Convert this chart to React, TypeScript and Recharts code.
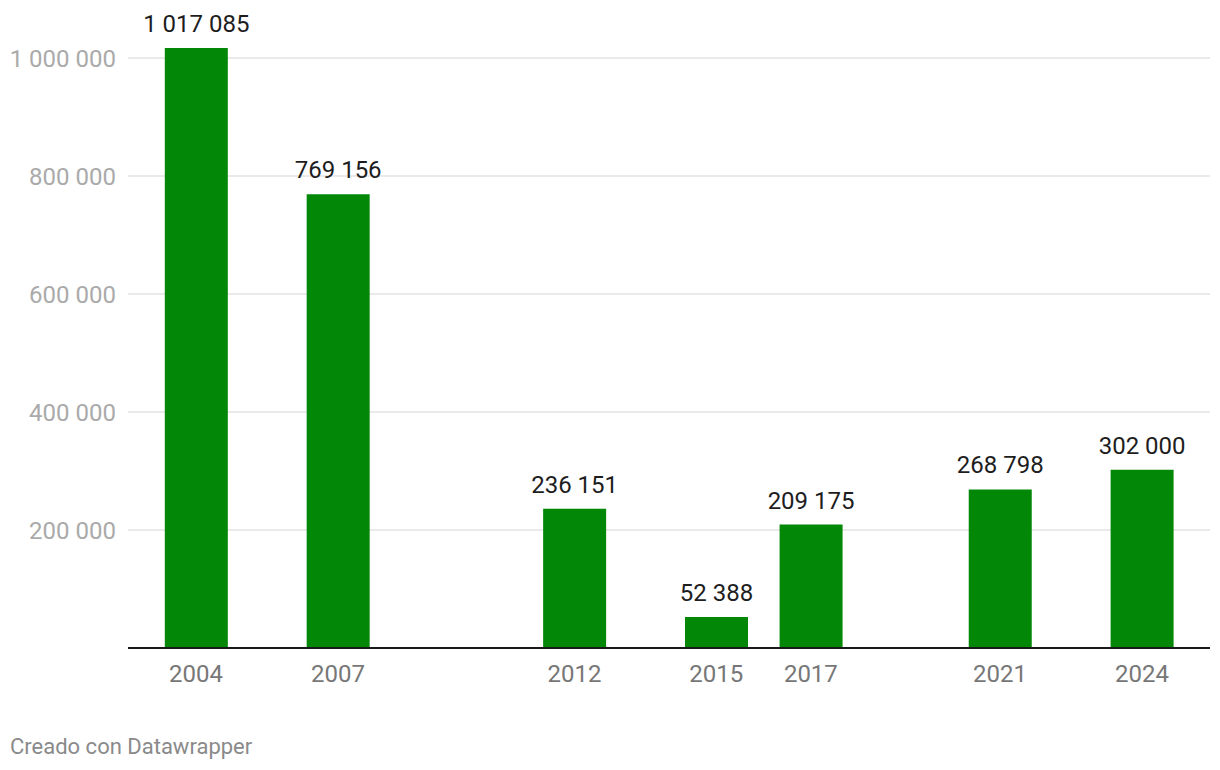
import { Bar, BarChart, CartesianGrid, LabelList, XAxis, YAxis } from "recharts"

const years = [2004, 2007, 2012, 2015, 2017, 2021, 2024]
const values = [1017085, 769156, 236151, 52388, 209175, 268798, 302000]
const yTicks = [0, 200000, 400000, 600000, 800000, 1000000]

const data = years.map((year, i) => ({ year, value: values[i] }))

const fmt = (v: number) => (v === 0 ? "" : String(v).replace(/\B(?=(\d{3})+(?!\d))/g, " "))

const ValueLabel = (props: any) => {
  const { x, y, width, value } = props
  return (
    <text
      x={Number(x) + Number(width) / 2}
      y={Number(y) - 16}
      textAnchor="middle"
      fill="#1d1d1d"
      fontSize={24}
      fontFamily="Roboto"
    >
      {fmt(Number(value))}
    </text>
  )
}

export default function App() {
  return (
    <div style={{ position: "absolute", left: 0, top: 0, width: 1220, height: 770, fontFamily: "Roboto" }}>
      <BarChart
        width={1220}
        height={770}
        data={data}
        margin={{ top: 28.5, right: 10, left: 8, bottom: 92 }}
      >
        <CartesianGrid vertical={false} stroke="#e3e3e3" strokeWidth={1.5} horizontalValues={yTicks.slice(1)} />
        <XAxis
          dataKey="year"
          type="number"
          domain={[2002.56, 2025.44]}
          ticks={years}
          height={30}
          tickSize={0}
          tickMargin={17}
          axisLine={{ stroke: "#1a1a1a", strokeWidth: 2 }}
          tick={{ fill: "#777777", fontSize: 24, fontFamily: "Roboto" }}
        />
        <YAxis
          type="number"
          domain={[0, 1050000]}
          ticks={yTicks}
          width={120}
          tickSize={0}
          tickMargin={12}
          axisLine={false}
          tickLine={false}
          tickFormatter={fmt}
          tick={{ fill: "#aaaaaa", fontSize: 24, fontFamily: "Roboto" }}
        />
        <Bar dataKey="value" fill="#028707" barSize={63} isAnimationActive={false}>
          <LabelList dataKey="value" content={ValueLabel} />
        </Bar>
      </BarChart>
      <div
        style={{
          position: "absolute",
          left: 10,
          top: 735.5,
          fontSize: 22,
          lineHeight: "22px",
          color: "#8a8a8a",
          fontFamily: "Roboto",
          whiteSpace: "nowrap",
        }}
      >
        Creado con Datawrapper
      </div>
    </div>
  )
}
